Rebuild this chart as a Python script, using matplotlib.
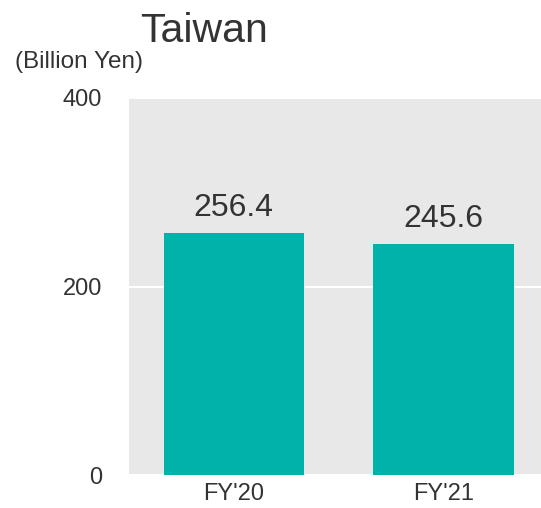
import matplotlib.pyplot as plt

plt.rcParams['font.family'] = ['Liberation Sans', 'DejaVu Sans']

# datos
periodos = ["FY'20", "FY'21"]
ventas = [256.4, 245.6]
ticks_y = [0, 200, 400]

color_barra = '#00b2aa'
color_texto = '#333333'

fig = plt.figure(figsize=(5.41, 5.08), dpi=100)
ax = fig.add_axes([129 / 541, 1 - 475 / 508, 412 / 541, (475 - 98) / 508])

ax.set_facecolor('#e8e8e8')
x = range(len(periodos))
barras = ax.bar(x, ventas, width=0.668, color=color_barra, zorder=3)

for b, v in zip(barras, ventas):
    ax.text(b.get_x() + b.get_width() / 2, v + 18, f'{v:.1f}',
            ha='center', va='baseline', fontsize=23, color=color_texto)

ax.set_ylim(0, 400)
ax.set_xlim(-0.5, 1.465)
ax.set_yticks(ticks_y)
ax.set_yticklabels([str(t) for t in ticks_y])
ax.set_xticks(list(x))
ax.set_xticklabels(periodos)
ax.yaxis.grid(True, color='white', linewidth=1.5, zorder=1)
ax.set_axisbelow(True)
ax.tick_params(axis='both', length=0, colors=color_texto)
ax.tick_params(axis='y', pad=19.5, labelsize=17)
ax.tick_params(axis='x', pad=6, labelsize=17)
for s in ax.spines.values():
    s.set_visible(False)

fig.text(140 / 541, 1 - 42 / 508, 'Taiwan', fontsize=29.5, color=color_texto,
         ha='left', va='baseline')
fig.text(15 / 541, 1 - 68 / 508, '(Billion Yen)', fontsize=17.5, color=color_texto,
         ha='left', va='baseline')

fig.savefig('out.png', dpi=100)
